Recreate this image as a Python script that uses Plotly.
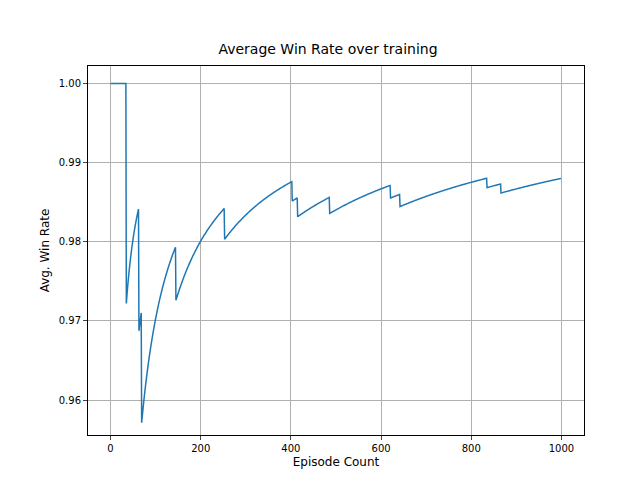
import numpy as np
import plotly.graph_objects as go

# episodes (1-based) that were lost; all others were won
loss_episodes = [36, 64, 70, 146, 254, 404, 416, 487, 622, 643, 836, 867]
n_episodes = 1000

outcomes = np.ones(n_episodes)
outcomes[np.array(loss_episodes) - 1] = 0
episode_count = np.arange(n_episodes)
avg_win_rate = np.cumsum(outcomes) / (episode_count + 1)

fig = go.Figure(go.Scatter(x=episode_count, y=avg_win_rate, mode="lines",
                           line=dict(color="#1f77b4", width=1.5, simplify=False)))

axis_style = dict(showline=True, linecolor="black", linewidth=1, mirror=True,
                  showgrid=True, gridcolor="#b0b0b0", gridwidth=0.8,
                  ticks="outside", ticklen=4, zeroline=False, automargin=False,
                  tickfont=dict(size=10, color="black"))

fig.update_layout(
    width=640, height=480,
    paper_bgcolor="white", plot_bgcolor="white",
    font=dict(family="DejaVu Sans", color="black"),
    title=dict(text="Average Win Rate over training", x=0.5, xanchor="center",
               y=0.915, yanchor="middle", font=dict(size=14)),
    margin=dict(l=80, r=64, t=58, b=53),
    showlegend=False,
)
fig.update_xaxes(axis_style, range=[-50, 1050], tickvals=[0, 200, 400, 600, 800, 1000],
                 title=dict(text="Episode Count", font=dict(size=12), standoff=4))
fig.update_yaxes(axis_style, range=[0.9556, 1.0022],
                 tickvals=[0.96, 0.97, 0.98, 0.99, 1.00], tickformat=".2f",
                 title=dict(text="Avg. Win Rate", font=dict(size=12), standoff=6))

fig.write_html("out.html")
